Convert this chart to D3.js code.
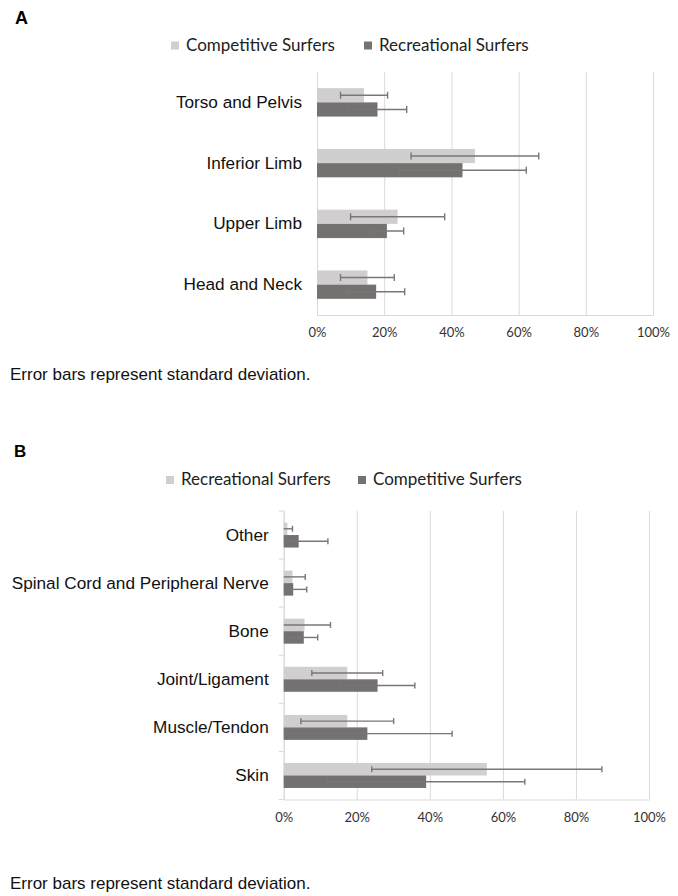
<!DOCTYPE html>
<html>
<head>
<meta charset="utf-8">
<script src="https://cdn.jsdelivr.net/npm/d3@7"></script>
<style>
  body { margin: 0; background: #fff; }
  svg { display: block; }
</style>
</head>
<body>
<svg id="chart" width="678" height="896"></svg>
<script>
// Panel A: injury location (% of injuries), mean and standard deviation
const locationCategories = ["Torso and Pelvis", "Inferior Limb", "Upper Limb", "Head and Neck"];
const locationCompetitive = [14, 47, 24, 15];
const locationCompetitiveSd = [7, 19, 14, 8];
const locationRecreational = [18, 43.3, 20.8, 17.6];
const locationRecreationalSd = [8.7, 19, 5, 8.5];

// Panel B: injury type (% of injuries), mean and standard deviation
const typeCategories = ["Other", "Spinal Cord and Peripheral Nerve", "Bone", "Joint/Ligament", "Muscle/Tendon", "Skin"];
const typeRecreational = [1.0, 2.4, 5.7, 17.4, 17.4, 55.6];
const typeRecreationalSd = [1.4, 3.5, 7.1, 9.7, 12.7, 31.5];
const typeCompetitive = [4.1, 2.6, 5.5, 25.7, 22.9, 39.0];
const typeCompetitiveSd = [8, 3.7, 3.8, 10.2, 23.2, 27];

const percentTicks = [0, 20, 40, 60, 80, 100];
const footnote = "Error bars represent standard deviation.";

const LIGHT = "#D0CECE", DARK = "#767171", ERR = "#7A7676", GRID = "#D9D9D9";
const LABEL_FONT = "'Liberation Sans', Arial, sans-serif";
const UI_FONT = "Lato, 'Open Sans', sans-serif";

const svg = d3.select("#chart");

function drawPanel(cfg) {
  const g = svg.append("g");

  const x = d3.scaleLinear().domain([0, 100]).range([cfg.x0, cfg.x1]);
  const y = d3.scaleBand().domain(cfg.categories).range([cfg.top, cfg.bottom]);
  const half = y.bandwidth() / 2;
  const sub = d3.scaleBand().domain(["light", "dark"])
    .range([half - cfg.barH, half + cfg.barH]);

  // panel letter
  g.append("text").attr("x", cfg.letterX).attr("y", cfg.letterY)
    .attr("font-family", LABEL_FONT).attr("font-weight", "bold")
    .attr("font-size", cfg.letterSize).attr("fill", "#000").text(cfg.letter);

  // legend
  const legend = g.append("g");
  cfg.legend.forEach(item => {
    legend.append("rect").attr("x", item.x).attr("y", cfg.legendY - 9)
      .attr("width", 8).attr("height", 8).attr("fill", item.color);
    legend.append("text").attr("x", item.x + 15).attr("y", cfg.legendY)
      .attr("font-family", UI_FONT).attr("font-size", 17).attr("fill", "#222")
      .text(item.label);
  });

  // x axis with vertical gridlines
  const xAxis = g.append("g").attr("transform", `translate(0,${cfg.bottom})`)
    .call(d3.axisBottom(x).tickValues(percentTicks)
      .tickSize(-(cfg.bottom - cfg.top)).tickSizeOuter(0)
      .tickPadding(13).tickFormat(d => d + "%"));
  xAxis.select(".domain").attr("stroke", GRID);
  xAxis.selectAll(".tick line").attr("stroke", GRID).attr("stroke-width", 1);
  xAxis.selectAll(".tick text").attr("font-family", UI_FONT)
    .attr("font-size", 13).attr("fill", "#333");

  // y axis with category labels
  const yAxis = g.append("g").attr("transform", `translate(${cfg.x0},0)`)
    .call(d3.axisLeft(y).tickSize(0).tickPadding(15));
  yAxis.select(".domain").attr("stroke", GRID);
  yAxis.selectAll(".tick text").attr("font-family", LABEL_FONT)
    .attr("font-size", 17.2).attr("fill", "#111");

  if (cfg.categoryTicks) {
    const bounds = cfg.categories.map(c => y(c)).concat([cfg.bottom]);
    g.append("g").selectAll("line").data(bounds).join("line")
      .attr("x1", cfg.x0 - 5).attr("x2", cfg.x0)
      .attr("y1", d => d).attr("y2", d => d)
      .attr("stroke", GRID);
  }

  // bars and error bars
  const rows = [];
  cfg.categories.forEach((c, i) => {
    cfg.series.forEach(s => {
      rows.push({ cat: c, key: s.key, color: s.color, v: s.values[i], sd: s.sd[i] });
    });
  });

  const bars = g.append("g");
  bars.selectAll("rect").data(rows).join("rect")
    .attr("x", x(0))
    .attr("y", d => y(d.cat) + sub(d.key))
    .attr("width", d => x(d.v) - x(0))
    .attr("height", sub.bandwidth())
    .attr("fill", d => d.color);

  const errs = g.append("g").attr("stroke", ERR).attr("stroke-width", 1.4);
  rows.forEach(d => {
    const cy = y(d.cat) + sub(d.key) + sub.bandwidth() / 2;
    const lo = Math.max(0, d.v - d.sd), hi = d.v + d.sd;
    errs.append("line").attr("x1", x(lo)).attr("x2", x(hi)).attr("y1", cy).attr("y2", cy);
    errs.append("line").attr("x1", x(hi)).attr("x2", x(hi))
      .attr("y1", cy - cfg.cap).attr("y2", cy + cfg.cap);
    if (d.v - d.sd > 0) {
      errs.append("line").attr("x1", x(lo)).attr("x2", x(lo))
        .attr("y1", cy - cfg.cap).attr("y2", cy + cfg.cap);
    }
  });

  // footnote
  g.append("text").attr("x", 10).attr("y", cfg.noteY)
    .attr("font-family", LABEL_FONT).attr("font-size", 17).attr("fill", "#111")
    .text(footnote);
}

drawPanel({
  letter: "A", letterX: 15, letterY: 24, letterSize: 18,
  legendY: 50.5,
  legend: [
    { x: 171, color: LIGHT, label: "Competitive Surfers" },
    { x: 364, color: DARK, label: "Recreational Surfers" }
  ],
  categories: locationCategories,
  series: [
    { key: "light", color: LIGHT, values: locationCompetitive, sd: locationCompetitiveSd },
    { key: "dark", color: DARK, values: locationRecreational, sd: locationRecreationalSd }
  ],
  x0: 317, x1: 653, top: 72, bottom: 315, barH: 14.2, cap: 3.5,
  categoryTicks: false, noteY: 380
});

drawPanel({
  letter: "B", letterX: 14, letterY: 456.5, letterSize: 17,
  legendY: 485,
  legend: [
    { x: 166, color: LIGHT, label: "Recreational Surfers" },
    { x: 358, color: DARK, label: "Competitive Surfers" }
  ],
  categories: typeCategories,
  series: [
    { key: "light", color: LIGHT, values: typeRecreational, sd: typeRecreationalSd },
    { key: "dark", color: DARK, values: typeCompetitive, sd: typeCompetitiveSd }
  ],
  x0: 283.7, x1: 649, top: 511, bottom: 799.5, barH: 12.5, cap: 3,
  categoryTicks: true, noteY: 889
});
</script>
</body>
</html>
